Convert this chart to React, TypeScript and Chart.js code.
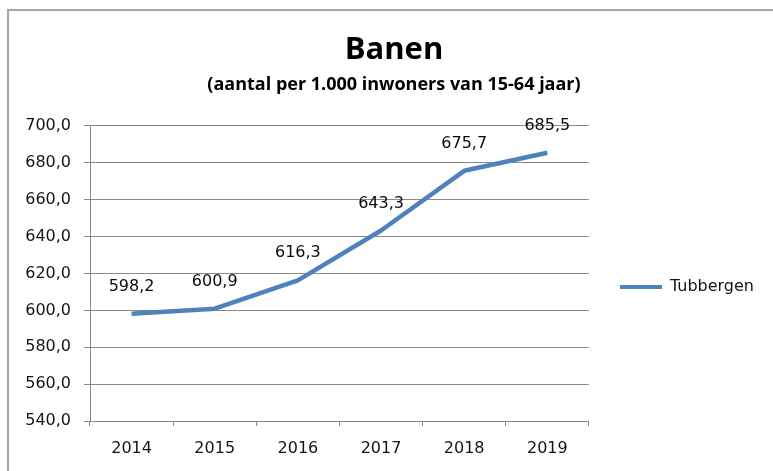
import React, { useEffect, useRef } from "react";
import { Chart, registerables } from "chart.js";

Chart.register(...registerables);

// ---- data ----
const years: string[] = ["2014", "2015", "2016", "2017", "2018", "2019"];
const tubbergen: number[] = [598.2, 600.9, 616.3, 643.3, 675.7, 685.5];
const seriesName = "Tubbergen";
const titleText = "Banen";
const subtitleText = "(aantal per 1.000 inwoners van 15-64 jaar)";
const yMin = 540;
const yMax = 700;
const yStep = 20;

const fmt = (v: number) => Number(v).toFixed(1).replace(".", ",");

const LINE_COLOR = "#4F81BD";
const GRID = "#8a8a8a";
const TEXT = "#141414";
const TICK_FONT = { family: "'DejaVu Sans'", size: 16 };
const PAD_L = 24;
const PAD_R = 9;

const framePlugin = {
  id: "frame",
  beforeDraw(chart: any) {
    const ctx = chart.ctx;
    ctx.save();
    ctx.fillStyle = "#ffffff";
    ctx.fillRect(0, 0, chart.width, chart.height);
    ctx.strokeStyle = "#a6a6a6";
    ctx.lineWidth = 2;
    ctx.beginPath();
    ctx.moveTo(8, chart.height);
    ctx.lineTo(8, 10);
    ctx.lineTo(chart.width, 10);
    ctx.stroke();
    ctx.restore();
  },
};

const labelPlugin = {
  id: "pointLabels",
  afterDatasetsDraw(chart: any) {
    const ctx = chart.ctx;
    ctx.save();
    ctx.font = "16px 'DejaVu Sans'";
    ctx.fillStyle = "#0a0a0a";
    ctx.textAlign = "center";
    ctx.textBaseline = "middle";
    chart.data.datasets.forEach((ds: any, di: number) => {
      const meta = chart.getDatasetMeta(di);
      meta.data.forEach((pt: any, i: number) => {
        ctx.fillText(fmt(ds.data[i]), pt.x, pt.y - 27);
      });
    });
    ctx.restore();
  },
};

export default function App() {
  const ref = useRef<HTMLCanvasElement | null>(null);

  useEffect(() => {
    if (!ref.current) return;
    const chart = new Chart(ref.current, {
      type: "line",
      data: {
        labels: years,
        datasets: [
          {
            label: seriesName,
            data: tubbergen,
            borderColor: LINE_COLOR,
            backgroundColor: LINE_COLOR,
            borderWidth: 4.5,
            pointRadius: 0,
            pointHoverRadius: 0,
            tension: 0,
            borderJoinStyle: "round",
            fill: false,
          },
        ],
      },
      options: {
        animation: false,
        responsive: true,
        maintainAspectRatio: false,
        events: [],
        layout: { padding: { left: PAD_L, right: PAD_R, top: 0, bottom: 0 } },
        plugins: {
          tooltip: { enabled: false },
          title: {
            display: true,
            text: titleText,
            color: "#000",
            font: { family: "'Open Sans'", size: 31, weight: "bold", lineHeight: 1.2 },
            padding: { top: 31.4, bottom: 0 },
          },
          subtitle: {
            display: true,
            text: subtitleText,
            color: "#000",
            font: { family: "'Open Sans'", size: 18, weight: "bold", lineHeight: 1.2 },
            padding: { top: 5.6, bottom: 30.2 },
          },
          legend: {
            position: "right",
            fullSize: false,
            align: "center",
            title: {
              display: true,
              text: " ",
              font: { size: 10, lineHeight: 1.2 },
              padding: { top: 7.5, bottom: 7.5 },
            },
            labels: {
              boxWidth: 42,
              boxHeight: 4,
              padding: 31,
              color: TEXT,
              font: TICK_FONT,
              generateLabels: (c: any) =>
                (Chart.defaults.plugins.legend.labels.generateLabels as any)(c).map((l: any) => ({
                  ...l,
                  lineWidth: 0,
                  fillStyle: LINE_COLOR,
                  strokeStyle: LINE_COLOR,
                })),
            },
          },
        },
        scales: {
          x: {
            type: "category",
            offset: true,
            grid: {
              offset: true,
              drawOnChartArea: false,
              drawTicks: true,
              tickLength: 5,
              color: GRID,
            },
            border: { display: true, color: GRID, width: 1 },
            ticks: {
              color: TEXT,
              font: TICK_FONT,
              padding: 13,
              maxRotation: 0,
              autoSkip: false,
            },
            afterFit: (s: any) => {
              s.height = 50;
            },
          },
          y: {
            min: yMin,
            max: yMax,
            ticks: {
              stepSize: yStep,
              callback: (v: any) => fmt(v),
              color: TEXT,
              font: TICK_FONT,
              padding: 13,
            },
            grid: { color: GRID, tickLength: 6, drawTicks: true },
            border: { display: true, color: GRID, width: 1 },
            afterFit: (s: any) => {
              s.width = 90 - PAD_L;
            },
          },
        },
      } as any,
      plugins: [framePlugin, labelPlugin],
    });
    return () => chart.destroy();
  }, []);

  return (
    <div style={{ position: "fixed", left: 0, top: 0, width: 773, height: 471, background: "#fff" }}>
      <canvas ref={ref} />
    </div>
  );
}
